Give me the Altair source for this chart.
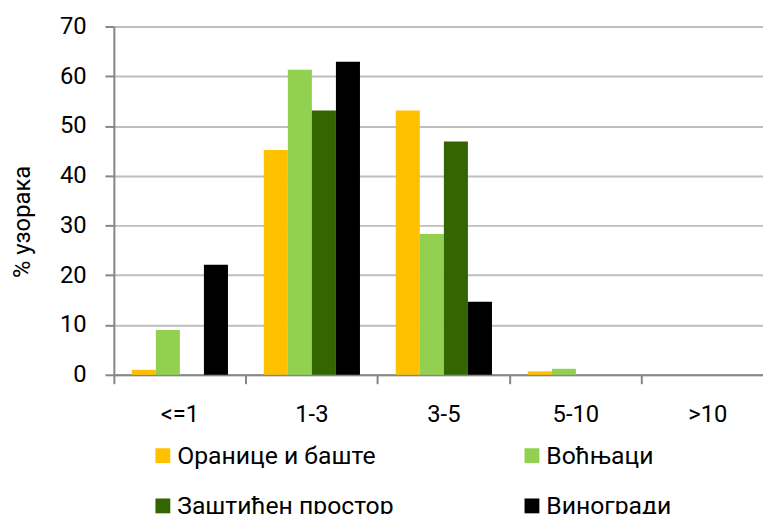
import altair as alt
import pandas as pd

categories = ["<=1", "1-3", "3-5", "5-10", ">10"]
series = ["Оранице и баште", "Воћњаци", "Заштићен простор", "Виногради"]
colors = ["#FFC000", "#92D050", "#336600", "#000000"]

oranice = [1.0, 45.2, 53.1, 0.7, 0.0]
vocnjaci = [9.0, 61.3, 28.3, 1.2, 0.0]
zasticen = [0.0, 53.1, 46.9, 0.0, 0.0]
vinogradi = [22.1, 62.9, 14.7, 0.0, 0.0]

rows = []
for s, vals in zip(series, [oranice, vocnjaci, zasticen, vinogradi]):
    for c, v in zip(categories, vals):
        rows.append({"cat": c, "series": s, "val": v})
df = pd.DataFrame(rows)

FONT = "Roboto"

chart = alt.Chart(df).mark_bar().encode(
    x=alt.X(
        "cat:N",
        sort=categories,
        scale=alt.Scale(domain=categories, paddingInner=0, paddingOuter=0),
        axis=alt.Axis(
            title=None, bandPosition=0, labelAngle=0, labelFontSize=24, labelFont=FONT,
            labelColor="#000000", labelPadding=19, tickSize=9, tickWidth=2, tickColor="#868686",
            domainColor="#868686", domainWidth=2, grid=False,
        ),
    ),
    xOffset=alt.XOffset(
        "series:N", sort=series,
        scale=alt.Scale(domain=series, paddingInner=0, paddingOuter=0.745),
    ),
    y=alt.Y(
        "val:Q",
        scale=alt.Scale(domain=[0, 70], nice=False),
        axis=alt.Axis(
            values=list(range(0, 71, 10)), title="% узорака", titleFont=FONT, titleFontSize=24,
            titleFontWeight="normal", titleColor="#000000", titleX=-92, titleY=197,
            titleAlign="center", titleBaseline="middle", titleAngle=270,
            labelFontSize=24, labelFont=FONT, labelColor="#000000", labelPadding=19,
            tickSize=9, tickWidth=2, tickColor="#868686", domainColor="#868686", domainWidth=2,
            grid=True, gridColor="#BEBEBE", gridWidth=2,
        ),
    ),
    color=alt.Color(
        "series:N",
        scale=alt.Scale(domain=series, range=colors),
        legend=alt.Legend(
            title=None, orient="none", legendX=37, legendY=421, columns=2, direction="horizontal",
            symbolType="square", symbolSize=225, symbolStrokeWidth=0, symbolOpacity=1,
            labelFont=FONT, labelFontSize=25, labelColor="#000000", labelOffset=2,
            columnPadding=127, rowPadding=25, padding=0, labelLimit=400,
        ),
    ),
).properties(
    width=667, height=352,
    padding={"left": 107, "top": 16, "right": -11, "bottom": 138},
    autosize="none",
).configure_view(stroke=None).configure(background="white")

chart.save("out.html", embed_options={"renderer": "svg", "actions": False})
